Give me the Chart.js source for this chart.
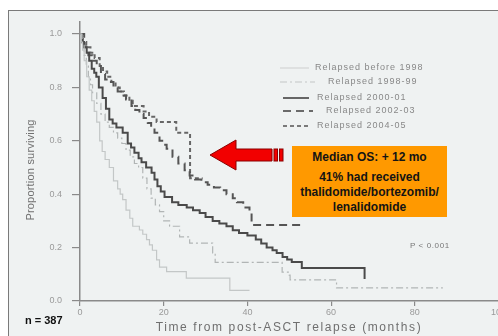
<!DOCTYPE html>
<html><head><meta charset="utf-8">
<script src="https://cdn.jsdelivr.net/npm/chart.js@4/dist/chart.umd.min.js"></script>
<style>
html,body{margin:0;padding:0;width:498px;height:336px;overflow:hidden;background:#fff;}
#frame{position:absolute;left:8px;top:10px;width:600px;height:400px;border-left:1.5px solid #7a7a7a;border-top:1.5px solid #7a7a7a;background:#eff2f2;}
#wrap{position:absolute;left:0;top:0;width:520px;height:336px;}
#box{position:absolute;left:292px;top:146px;width:155px;height:71px;background:#ff9900;font-family:"Liberation Sans",Arial,sans-serif;font-weight:bold;font-size:12px;color:#141414;text-align:center;}
#box div{position:absolute;left:0;width:155px;line-height:14px;white-space:nowrap;}
#n{position:absolute;left:25px;top:313px;font-family:"Liberation Sans",Arial,sans-serif;font-weight:bold;font-size:11px;color:#111;line-height:14px;}
#p{position:absolute;left:410px;top:240px;font-family:"Liberation Sans",Arial,sans-serif;font-size:8px;letter-spacing:0.6px;color:#777;line-height:12px;}
</style></head>
<body>
<div id="frame"></div>
<div id="wrap"><canvas id="c" width="520" height="336"></canvas></div>
<div id="box">
  <div style="top:4px">Median OS: + 12 mo</div>
  <div style="top:24px">41% had received</div>
  <div style="top:39px">thalidomide/bortezomib/</div>
  <div style="top:54px">lenalidomide</div>
</div>
<div id="n">n = 387</div>
<div id="p">P &lt; 0.001</div>
<script>
// ---- data ----
const seriesLabels = ["Relapsed before 1998","Relapsed 1998-99","Relapsed 2000-01","Relapsed 2002-03","Relapsed 2004-05"];
const monthsBefore1998 = [0,0.3,0.6,1.0,1.6,2.2,2.8,3.4,4.0,4.7,5.3,6.0,7.0,8.0,9.0,9.6,10.2,11.0,11.9,12.6,14.2,15.0,15.9,16.6,17.3,18.3,19.0,20.7,25.4,35.8,40.5];
const survBefore1998   = [1,0.97,0.94,0.90,0.84,0.79,0.75,0.71,0.67,0.60,0.56,0.53,0.50,0.45,0.42,0.40,0.38,0.34,0.31,0.28,0.266,0.25,0.23,0.21,0.19,0.154,0.127,0.11,0.086,0.04,0.04];
const months1998_99 = [0,0.5,1,1.5,2,2.5,3,4,5,6,7,8,9,10,11,12,13,14,15,16,17,18,19,20,21.4,23.8,26.2,31.7,32.3,48.3,50.0,50.2,61.3,86.7];
const surv1998_99   = [1,0.96,0.92,0.88,0.84,0.81,0.78,0.74,0.70,0.67,0.65,0.63,0.61,0.59,0.565,0.54,0.515,0.50,0.46,0.42,0.385,0.36,0.335,0.30,0.28,0.24,0.217,0.18,0.145,0.108,0.097,0.079,0.049,0.049];
const months2000_01 = [0,0.5,1,1.6,2.2,2.8,3.4,3.9,4.5,5.4,6.2,7.0,7.8,8.7,10.2,11.4,12.2,13.0,14.0,14.7,15.8,17.1,17.8,18.5,19.3,20.2,22.0,23.5,25.5,27,28.6,30,31.7,33.3,35,36.5,38,40,42,43.3,44.6,46,47,48.4,49.5,50.6,53,68,68];
const surv2000_01   = [1,0.97,0.95,0.93,0.90,0.87,0.855,0.84,0.80,0.76,0.72,0.68,0.665,0.65,0.63,0.59,0.575,0.555,0.535,0.52,0.50,0.48,0.455,0.43,0.41,0.39,0.37,0.36,0.35,0.34,0.33,0.315,0.30,0.29,0.28,0.265,0.255,0.245,0.23,0.215,0.20,0.19,0.18,0.165,0.155,0.146,0.124,0.124,0.082];
const months2002_03 = [0,1,2,3,4,5,6,7,8,9,10,11,12.3,13.2,14.2,15.2,16.2,17,17.8,19,20,20.7,22.1,23.5,25,26.2,27.5,29,30.5,32,33.5,35,36.5,37.5,39,40.5,41,53.7];
const surv2002_03   = [1,0.95,0.92,0.90,0.88,0.85,0.83,0.82,0.80,0.785,0.77,0.755,0.73,0.715,0.70,0.685,0.667,0.65,0.63,0.60,0.585,0.57,0.54,0.515,0.49,0.47,0.455,0.445,0.435,0.425,0.415,0.40,0.385,0.37,0.35,0.33,0.285,0.285];
const months2004_05 = [0,0.7,1.5,2.5,3.5,4.7,5.5,6.5,7.5,8.5,9.5,10.5,11.8,12.6,15.2,16.5,18.3,23,26.3,29.3];
const surv2004_05   = [1,0.97,0.95,0.93,0.91,0.88,0.86,0.84,0.82,0.80,0.785,0.77,0.75,0.73,0.71,0.69,0.67,0.63,0.46,0.46];
const xTickValues = [0,20,40,60,80,100];
const yTickValues = [0,0.2,0.4,0.6,0.8,1.0];

const pts = (t,p) => t.map((v,i)=>({x:v,y:p[i]}));

const overlay = {
  id:'overlay',
  afterDraw(chart, args, o){
    const ctx = chart.ctx;
    ctx.save();
    // legend
    chart.data.datasets.forEach((ds,i)=>{
      const L = o.legend[i];
      ctx.beginPath();
      ctx.setLineDash(ds.borderDash||[]);
      ctx.strokeStyle = o.legendColors[i];
      ctx.lineWidth = ds.borderWidth;
      ctx.moveTo(L.x0, L.y); ctx.lineTo(L.x1, L.y); ctx.stroke();
      ctx.setLineDash([]);
      ctx.font = '9px "Liberation Sans", Arial, sans-serif';
      ctx.letterSpacing = '1px';
      ctx.fillStyle = '#888';
      ctx.textBaseline = 'middle'; ctx.textAlign = 'left';
      ctx.fillText(ds.label, L.tx, L.y);
    });
    // x title
    ctx.font = '12px "Liberation Sans", Arial, sans-serif';
    ctx.letterSpacing = '1.6px';
    ctx.fillStyle = '#6f6f6f';
    ctx.textAlign = 'center'; ctx.textBaseline = 'middle';
    ctx.fillText(o.xTitle, 289, 328);
    // y title
    ctx.save();
    ctx.translate(31,170); ctx.rotate(-Math.PI/2);
    ctx.font = '11px "Liberation Sans", Arial, sans-serif';
    ctx.letterSpacing = '0.2px';
    ctx.fillStyle = '#707070';
    ctx.fillText(o.yTitle, 0, 0);
    ctx.restore();
    // arrow
    ctx.letterSpacing = '0px';
    ctx.beginPath();
    ctx.moveTo(210,155); ctx.lineTo(236,140); ctx.lineTo(236,149); ctx.lineTo(272,149);
    ctx.lineTo(272,161); ctx.lineTo(236,161); ctx.lineTo(236,170); ctx.closePath();
    ctx.fillStyle = '#f20000'; ctx.fill();
    ctx.strokeStyle = '#8a0000'; ctx.lineWidth = 1; ctx.stroke();
    [[274,149],[279.5,149]].forEach(([x,y])=>{
      ctx.fillStyle = '#f20000'; ctx.fillRect(x,y,3.5,12);
      ctx.strokeStyle = '#8a0000'; ctx.strokeRect(x,y,3.5,12);
    });
    ctx.restore();
  }
};

new Chart(document.getElementById('c'), {
  type:'line',
  data:{
    datasets:[
      {label:seriesLabels[0], data:pts(monthsBefore1998,survBefore1998), borderColor:'#c3c7c7', borderWidth:1.2, stepped:true},
      {label:seriesLabels[1], data:pts(months1998_99,surv1998_99), borderColor:'#b1b5b5', borderWidth:1.2, borderDash:[7,3,2,3], stepped:true},
      {label:seriesLabels[2], data:pts(months2000_01,surv2000_01), borderColor:'#4a4a4a', borderWidth:2, stepped:true},
      {label:seriesLabels[3], data:pts(months2002_03,surv2002_03), borderColor:'#555', borderWidth:2, borderDash:[8,5], stepped:true},
      {label:seriesLabels[4], data:pts(months2004_05,surv2004_05), borderColor:'#666', borderWidth:2, borderDash:[4,3], stepped:true}
    ]
  },
  options:{
    responsive:false, animation:false, devicePixelRatio:1,
    layout:{padding:{left:0, top:22, right:21.5, bottom:0}},
    elements:{point:{radius:0}, line:{fill:false, tension:0}},
    plugins:{
      legend:{display:false}, tooltip:{enabled:false},
      overlay:{
        xTitle:'Time from post-ASCT relapse (months)',
        yTitle:'Proportion surviving',
        legendColors:['#d2d4d4','#c4c6c6','#666','#6a6a6a','#7a7a7a'],
        legend:[
          {x0:280,x1:309,y:68,tx:315},
          {x0:280,x1:315,y:82,tx:328},
          {x0:283,x1:309,y:98,tx:317},
          {x0:283,x1:313,y:111,tx:326},
          {x0:283,x1:310,y:126,tx:317}
        ]
      }
    },
    scales:{
      x:{type:'linear', min:0, max:100,
        afterBuildTicks:s=>{s.ticks = xTickValues.map(v=>({value:v}));},
        afterFit:s=>{s.height=35;},
        ticks:{font:{family:'"Liberation Sans", Arial, sans-serif', size:9}, color:'#9a9a9a', padding:1, maxRotation:0, autoSkip:false, callback:v=>String(v)},
        grid:{drawOnChartArea:false, drawTicks:true, tickLength:5, color:'#8a8a8a', lineWidth:1.2},
        border:{display:true, color:'#8a8a8a', width:1.5}
      },
      y:{type:'linear', min:0, max:1.045,
        afterBuildTicks:s=>{s.ticks = yTickValues.map(v=>({value:v}));},
        afterFit:s=>{s.width=80;},
        ticks:{font:{family:'"Liberation Sans", Arial, sans-serif', size:9}, color:'#9a9a9a', padding:10, autoSkip:false, callback:v=>v.toFixed(1)},
        grid:{drawOnChartArea:false, drawTicks:true, tickLength:8, color:'#8a8a8a', lineWidth:1.2},
        border:{display:true, color:'#8a8a8a', width:1.5}
      }
    }
  },
  plugins:[overlay]
});
</script>
</body></html>
